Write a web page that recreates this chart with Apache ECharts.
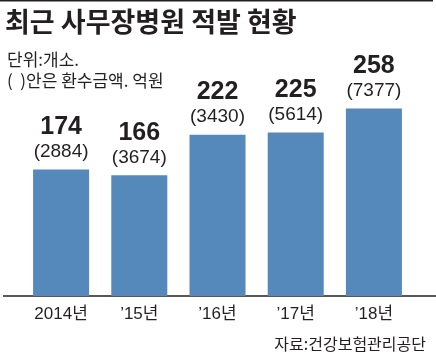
<!DOCTYPE html>
<html>
<head>
<meta charset="utf-8">
<script src="https://cdn.jsdelivr.net/npm/echarts@6/dist/echarts.min.js"></script>
<style>
  html, body { margin: 0; padding: 0; background: #fff; }
  #chart { width: 436px; height: 353px; }
</style>
</head>
<body>
<div id="chart"></div>
<script>
// 연도별 적발 건수(개소)와 환수금액(억원)
const years = ['2014년', '\u201915년', '\u201916년', '\u201917년', '\u201918년']
const counts = [174, 166, 222, 225, 258]
const amounts = [2884, 3674, 3430, 5614, 7377]

const num = '"Liberation Sans", "Noto Sans CJK KR", sans-serif'
const kr = '"Noto Sans CJK KR", sans-serif'

const chart = echarts.init(document.getElementById('chart'))
chart.setOption({
  backgroundColor: '#fff',
  animation: false,
  title: [{
    text: '최근 사무장병원 적발 현황',
    left: 0,
    top: 3,
    textStyle: { fontFamily: kr, fontSize: 27, fontWeight: 'bold', color: '#231f20' }
  }, {
    text: '단위:개소.\n(  )안은 환수금액. 억원',
    left: 2,
    top: 44,
    textStyle: { fontFamily: kr, fontSize: 17, fontWeight: 'normal', color: '#231f20', lineHeight: 21 }
  }, {
    text: '자료:건강보험관리공단',
    right: 5,
    top: 331,
    textStyle: { fontFamily: kr, fontSize: 16, fontWeight: 'normal', color: '#231f20' }
  }],
  graphic: [{
    type: 'rect',
    shape: { x: 0, y: 0, width: 433, height: 1.5 },
    style: { fill: '#231f20' }
  }, {
    type: 'line',
    shape: { x1: 3, y1: 296, x2: 436, y2: 296 },
    style: { stroke: '#231f20', lineWidth: 1.5 }
  }],
  grid: { left: 22, right: 23, top: 78, bottom: 57 },
  xAxis: {
    type: 'category',
    data: years,
    axisLine: { show: false },
    axisTick: { show: false },
    axisLabel: { margin: 10, fontFamily: num, fontSize: 17, color: '#231f20' }
  },
  yAxis: {
    type: 'value',
    min: 0,
    max: 300,
    show: false
  },
  series: [{
    type: 'bar',
    data: counts,
    barWidth: 56,
    itemStyle: { color: '#5588bb' },
    label: {
      show: true,
      position: 'top',
      distance: 7,
      formatter: (p) => '{a|' + p.value + '}\n{b|(' + amounts[p.dataIndex] + ')}',
      rich: {
        a: { fontFamily: num, fontSize: 25, fontWeight: 'bold', color: '#231f20', lineHeight: 27 },
        b: { fontFamily: num, fontSize: 19, color: '#231f20', lineHeight: 22 }
      }
    }
  }]
})
</script>
</body>
</html>
